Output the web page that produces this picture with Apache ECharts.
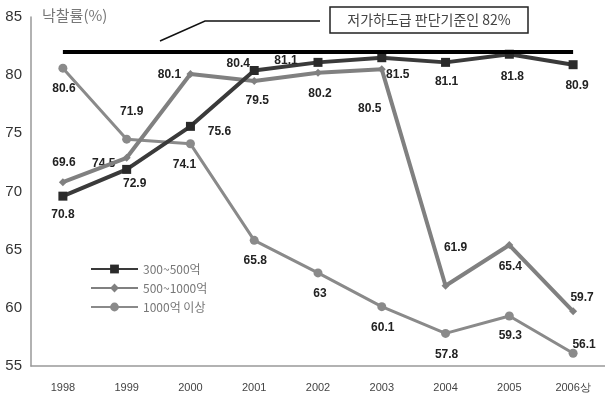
<!DOCTYPE html>
<html><head><meta charset="utf-8">
<script src="https://cdn.jsdelivr.net/npm/echarts@6/dist/echarts.min.js"></script>
<style>html,body{margin:0;padding:0;background:#fff}#c{width:605px;height:401px}</style>
</head><body><div id="c"></div>
<script>
const categories = ['1998','1999','2000','2001','2002','2003','2004','2005','2006상'];
const seriesNames = ['300~500억','500~1000억','1000억 이상'];
const s300 = [69.6,71.9,75.6,80.4,81.1,81.5,81.1,81.8,80.9];
const s500 = [70.8,72.9,80.1,79.5,80.2,80.5,61.9,65.4,59.7];
const s1000 = [80.6,74.5,74.1,65.8,63,60.1,57.8,59.3,56.1];
const refValue = 82;
const refText = '저가하도급 판단기준인 82%';
const yTitle = '낙찰률(%)';

// label offsets (px) per point
const off300 = [[1,-33],[5,-58],[29,5],[-16,-7],[-32,-2],[16,17],[1,19],[3,22],[4,21]];
const off500 = [[0,32],[8,26],[-21,1],[3,20],[2,21],[-12,39],[10,-38],[1,22],[9,-14]];
const off1000 = [[1,21],[-23,25],[-6,21],[1,20],[2,21],[1,21],[1,21],[1,20],[11,-9]];

const labelFont = {fontFamily:"'Liberation Sans Narrow','Arial Narrow','Liberation Sans',Arial,sans-serif", fontWeight:'bold', fontSize:12, color:'#222'};
function mk(vals, offs){ return vals.map((v,i)=>({value:v, label:{offset:offs[i]}})); }

const chart = echarts.init(document.getElementById('c'));
chart.setOption({
  animation:false,
  backgroundColor:'#fff',
  grid:{left:31, right:-2, top:17, bottom:35},
  legend:{
    orient:'vertical', left:85, top:258, itemWidth:47, itemHeight:11, itemGap:7,
    textStyle:{color:'#777', fontSize:12, fontFamily:"'Noto Sans CJK KR',sans-serif"},
    data:seriesNames
  },
  xAxis:{
    type:'category', data:categories, boundaryGap:true,
    axisLine:{lineStyle:{color:'#999', width:1.5}},
    axisTick:{inside:true, length:5, lineStyle:{color:'#999'}},
    axisLabel:{color:'#444', fontSize:11, margin:16, fontFamily:"'Liberation Sans Narrow','Liberation Sans',sans-serif"}
  },
  yAxis:{
    type:'value', min:55, max:85, interval:5,
    axisLine:{show:true, lineStyle:{color:'#999', width:1.5}},
    axisTick:{show:false},
    splitLine:{show:false},
    axisLabel:{color:'#333', fontSize:15, margin:9, fontFamily:"'Liberation Sans Narrow','Liberation Sans',sans-serif"}
  },
  series:[
    {
      name:seriesNames[2], type:'line', data:mk(s1000, off1000), z:2,
      symbol:'circle', symbolSize:9,
      lineStyle:{color:'#8a8a8a', width:3}, itemStyle:{color:'#8a8a8a'},
      label:Object.assign({show:true, position:'inside'}, labelFont)
    },
    {
      name:seriesNames[1], type:'line', data:mk(s500, off500), z:3,
      symbol:'diamond', symbolSize:8,
      lineStyle:{color:'#808080', width:4}, itemStyle:{color:'#808080'},
      label:Object.assign({show:true, position:'inside'}, labelFont)
    },
    {
      name:seriesNames[0], type:'line', data:mk(s300, off300), z:4,
      symbol:'rect', symbolSize:9,
      lineStyle:{color:'#3a3a3a', width:4}, itemStyle:{color:'#2a2a2a'},
      label:Object.assign({show:true, position:'inside'}, labelFont),
      markLine:{
        silent:true, symbol:'none', z:5,
        label:{show:false},
        lineStyle:{color:'#000', width:4, type:'solid'},
        data:[[{coord:[categories[0], refValue]},{coord:[categories[categories.length-1], refValue]}]]
      }
    }
  ],
  graphic:[
    {type:'text', left:42, top:8, style:{text:yTitle, fontSize:15, fill:'#777', fontFamily:"'Noto Sans CJK KR',sans-serif"}},
    {type:'rect', shape:{x:330, y:7, width:198, height:26}, style:{fill:'#fff', stroke:'#222', lineWidth:1.5}},
    {type:'text', x:429, y:20, style:{text:refText, fontSize:14, fill:'#444', align:'center', verticalAlign:'middle', fontFamily:"'Noto Sans CJK KR',sans-serif"}},
    {type:'polyline', shape:{points:[[160,41],[205,21],[320,21]]}, style:{stroke:'#111', lineWidth:1.5, fill:null}}
  ]
});
</script></body></html>
